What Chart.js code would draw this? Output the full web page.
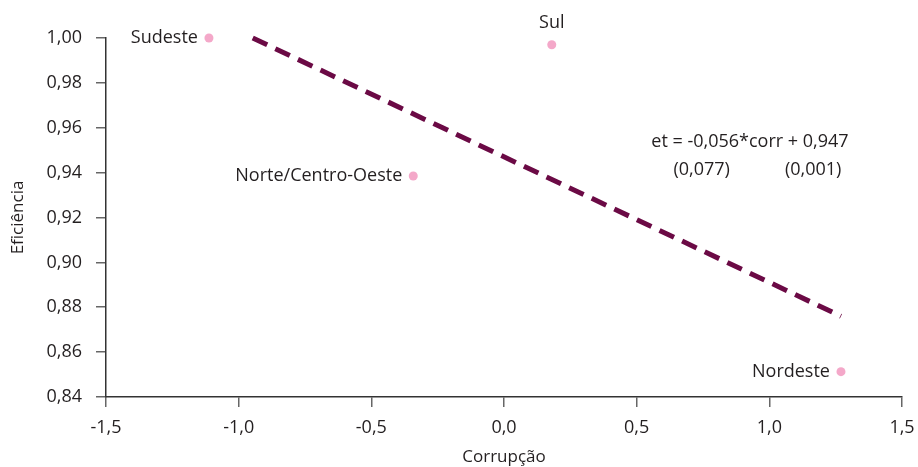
<!DOCTYPE html>
<html>
<head>
<meta charset="utf-8">
<script src="https://cdn.jsdelivr.net/npm/chart.js@4"></script>
<style>
  html, body { margin: 0; padding: 0; background: #fff; }
  #wrap { width: 918px; height: 467px; position: relative; }
</style>
</head>
<body>
<div id="wrap"><canvas id="chart"></canvas></div>
<script>
// --- data ---
const regions = ['Sudeste', 'Sul', 'Norte/Centro-Oeste', 'Nordeste'];
const corrupcao = [-1.112, 0.180, -0.342, 1.270];
const eficiencia = [1.000, 0.997, 0.9385, 0.8513];

// fitted line end points: et = -0,056*corr + 0,947
const fitX = [-0.947, 1.270];
const fitY = [1.000, 0.876];

const equationLines = ['et = -0,056*corr + 0,947'];
const stdErrors = ['(0,077)', '(0,001)'];

// where each region label sits relative to its point
const labelSide = ['left', 'top', 'left', 'left'];

const FONT = '"Open Sans", "Noto Sans", sans-serif';
const TEXT = '#231f20';

const pointLabels = {
    id: 'pointLabels',
    afterDatasetsDraw(chart) {
        const ctx = chart.ctx;
        const meta = chart.getDatasetMeta(0);
        ctx.save();
        ctx.font = '18px ' + FONT;
        ctx.fillStyle = TEXT;
        meta.data.forEach((pt, i) => {
            if (labelSide[i] === 'top') {
                ctx.textAlign = 'center';
                ctx.textBaseline = 'middle';
                ctx.fillText(regions[i], pt.x, pt.y - 22);
            } else {
                ctx.textAlign = 'right';
                ctx.textBaseline = 'middle';
                ctx.fillText(regions[i], pt.x - 11, pt.y);
            }
        });
        // regression equation, anchored in data units
        const xs = chart.scales.x, ys = chart.scales.y;
        const cx = xs.getPixelForValue(0.927);
        const cy = ys.getPixelForValue(0.9537);
        ctx.textAlign = 'center';
        ctx.textBaseline = 'middle';
        ctx.fillText(equationLines[0], cx, cy);
        ctx.fillText(stdErrors[0], xs.getPixelForValue(0.745), cy + 28);
        ctx.fillText(stdErrors[1], xs.getPixelForValue(1.165), cy + 28);
        ctx.restore();
    }
};

const fmt = (d) => (v) => v.toFixed(d).replace('.', ',');

new Chart(document.getElementById('chart'), {
    type: 'scatter',
    data: {
        datasets: [{
            label: 'Regiões',
            data: corrupcao.map((x, i) => ({ x: x, y: eficiencia[i] })),
            backgroundColor: '#f4a8c9',
            borderWidth: 0,
            pointRadius: 4.5,
            clip: false
        }, {
            label: 'Ajuste',
            type: 'line',
            data: fitX.map((x, i) => ({ x: x, y: fitY[i] })),
            borderColor: '#6b0a45',
            borderWidth: 5,
            borderDash: [16, 9],
            pointRadius: 0,
            fill: false,
            clip: false
        }]
    },
    options: {
        responsive: true,
        maintainAspectRatio: false,
        animation: false,
        layout: { padding: { top: 38, right: 16, left: 0, bottom: 0 } },
        plugins: {
            legend: { display: false },
            tooltip: { enabled: false }
        },
        scales: {
            x: {
                type: 'linear',
                min: -1.5,
                max: 1.5,
                ticks: { stepSize: 0.5, callback: fmt(1), color: TEXT, font: { family: FONT, size: 18 }, padding: 10 },
                grid: { drawOnChartArea: false, drawTicks: true, tickLength: 10, color: '#666', lineWidth: 1.5 },
                border: { color: '#333', width: 1.5 },
                title: { display: true, text: 'Corrupção', color: TEXT, font: { family: FONT, size: 17 }, padding: { top: 4, bottom: 0 } },
                afterFit(s) { s.height = 70; s.paddingLeft = 0; s.paddingRight = 0; }
            },
            y: {
                min: 0.84,
                max: 1.00,
                ticks: { stepSize: 0.02, callback: fmt(2), color: TEXT, font: { family: FONT, size: 18 }, padding: 14 },
                grid: { drawOnChartArea: false, drawTicks: true, tickLength: 10, color: '#666', lineWidth: 1.5 },
                border: { color: '#333', width: 1.5 },
                title: { display: true, text: 'Eficiência', color: TEXT, font: { family: FONT, size: 17 }, padding: { top: 8, bottom: 4 } },
                afterFit(s) { s.width = 106; s.paddingTop = 0; s.paddingBottom = 0; }
            }
        }
    },
    plugins: [pointLabels]
});
</script>
</body>
</html>
